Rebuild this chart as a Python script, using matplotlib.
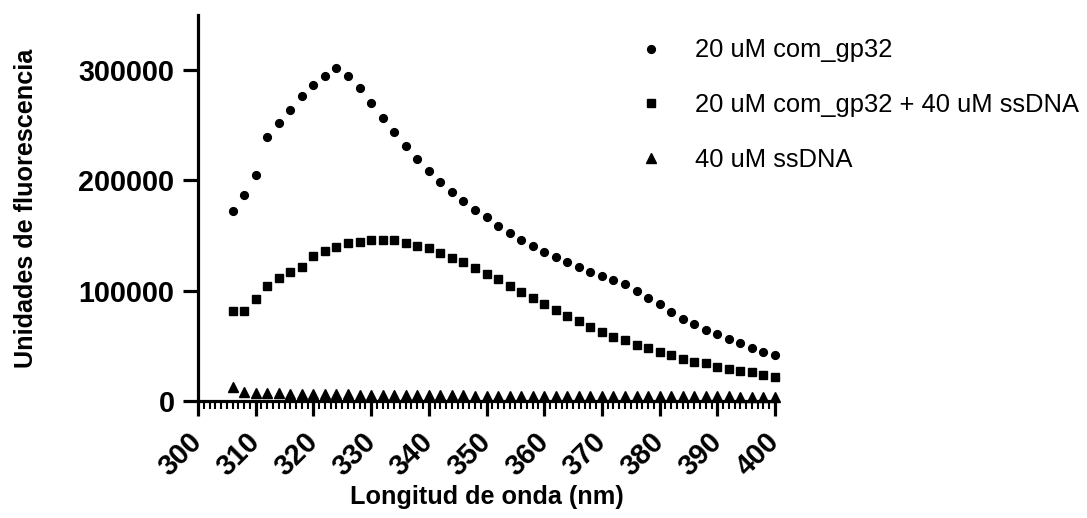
import matplotlib
matplotlib.use("Agg")
import matplotlib.pyplot as plt
from matplotlib.ticker import MultipleLocator, FuncFormatter

# ---------------- data ----------------
wavelength = list(range(306, 401, 2))

gp32 = [172100, 186900, 204800, 239300, 252300, 263800, 276800, 286500, 294900, 301500,
        294900, 284000, 270400, 256500, 243500, 230800, 219000, 208100, 199000, 189700,
        180900, 173200, 166500, 158800, 152700, 145800, 140700, 134900, 130400, 125900,
        121900, 117300, 113700, 109500, 105900, 100100, 93700, 87700, 81000, 74400,
        69600, 64400, 60500, 56000, 52300, 48000, 44400, 41500]

gp32_ssdna = [81900, 81900, 92600, 104600, 111600, 117100, 121900, 131600, 136400, 140000,
              143600, 144600, 146100, 146100, 146100, 143600, 140900, 138800, 134600, 129800,
              126100, 120900, 115500, 111000, 104400, 98900, 93700, 88300, 82600, 77400,
              72600, 67500, 62600, 58100, 55400, 50800, 48400, 44500, 41700, 38100,
              35700, 34200, 31200, 29000, 27500, 26000, 23600, 21500]

ssdna = [13000, 8000, 7500, 7200, 7000, 6800, 6600, 6400, 6200, 6000,
         5900, 5800, 5700, 5600, 5500, 5400, 5300, 5200, 5100, 5000,
         5000, 4900, 4900, 4800, 4800, 4700, 4700, 4600, 4600, 4500,
         4500, 4500, 4400, 4400, 4400, 4300, 4300, 4300, 4200, 4200,
         4200, 4100, 4100, 4100, 4000, 4000, 4000, 4000]

labels = ["20 uM com_gp32", "20 uM com_gp32 + 40 uM ssDNA", "40 uM ssDNA"]
x_ticks = list(range(300, 401, 10))
y_ticks = [0, 100000, 200000, 300000]

# ---------------- figure ----------------
plt.rcParams['font.family'] = ['Liberation Sans', 'DejaVu Sans']
W, H = 1087, 518
fig = plt.figure(figsize=(W / 100, H / 100), dpi=100)
ax = fig.add_axes([198 / W, 1 - 401 / H, 577 / W, 386 / H])

ax.plot(wavelength, gp32, linestyle='none', marker='o', ms=5.6, color='black',
        clip_on=False, label=labels[0])
ax.plot(wavelength, gp32_ssdna, linestyle='none', marker='s', ms=5.5, color='black',
        clip_on=False, label=labels[1])
ax.plot(wavelength, ssdna, linestyle='none', marker='^', ms=6.8, color='black',
        clip_on=False, label=labels[2])

ax.set_xlim(300, 400)
ax.set_ylim(0, 350000)

for s in ['top', 'right']:
    ax.spines[s].set_visible(False)
for s in ['left', 'bottom']:
    ax.spines[s].set_linewidth(2.3)

ax.set_xticks(x_ticks)
ax.xaxis.set_minor_locator(MultipleLocator(1))
ax.set_yticks(y_ticks)
ax.yaxis.set_major_formatter(FuncFormatter(lambda v, p: f"{int(v)}"))

ax.tick_params(axis='both', which='major', length=11, width=2.3, direction='out',
               labelsize=20.7)
ax.tick_params(axis='x', which='minor', length=6, width=1.5, direction='out')
ax.tick_params(axis='y', which='major', pad=6)
ax.tick_params(axis='x', which='major', pad=15)

for lab in ax.get_yticklabels():
    lab.set_fontweight('bold')
for lab in ax.get_xticklabels():
    lab.set_fontweight('bold')
    lab.set_rotation(45)
    lab.set_ha('right')
    lab.set_va('center')
    lab.set_rotation_mode('anchor')

ax.set_xlabel("Longitud de onda (nm)", fontsize=18.2, fontweight='bold')
ax.set_ylabel("Unidades de fluorescencia", fontsize=18.2, fontweight='bold')
ax.xaxis.set_label_coords(0.5, -0.218)
ax.yaxis.set_label_coords(-0.277, 0.5)

leg = ax.legend(loc='upper left', bbox_to_anchor=(638.5 / W, 1 - 38.5 / H),
                bbox_transform=fig.transFigure, frameon=False, fontsize=18.4,
                handlelength=1.0, handletextpad=1.22, labelspacing=1.2,
                borderpad=0, borderaxespad=0, markerscale=1.0)

fig.savefig("out.png", dpi=100)
